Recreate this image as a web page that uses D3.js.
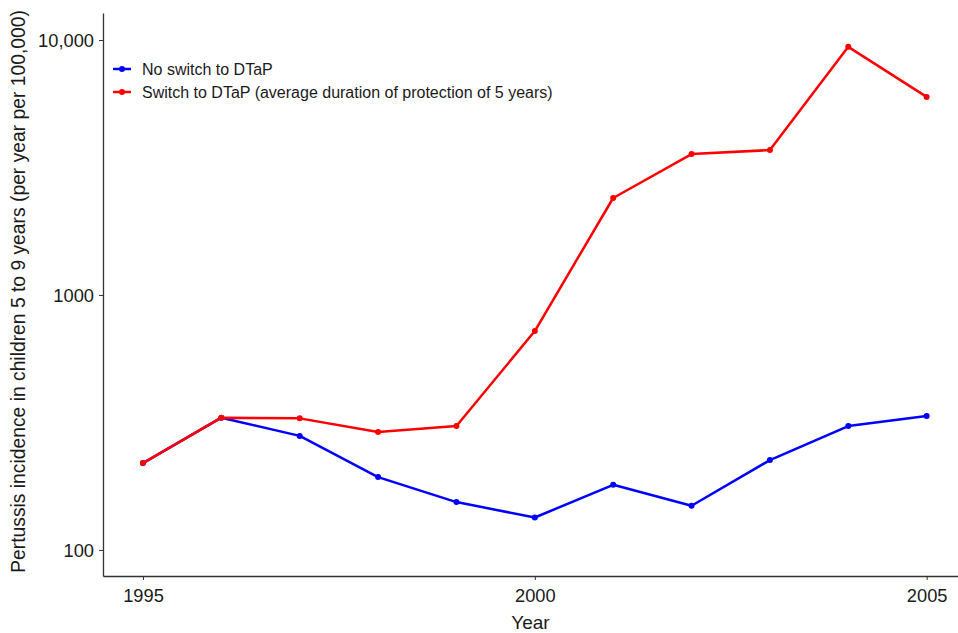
<!DOCTYPE html>
<html><head><meta charset="utf-8">
<script src="https://cdn.jsdelivr.net/npm/d3@7"></script>
<style>body{margin:0;background:#fff}svg{display:block;font-family:"Liberation Sans",Arial,sans-serif}</style>
</head><body><svg id="c" width="958" height="633"></svg>
<script>
const years = [1995,1996,1997,1998,1999,2000,2001,2002,2003,2004,2005];
const noSwitch = [219,330,280,193,154,134,180,149,225,306,335];
const switchDTaP = [219,330,328,290,306,722,2400,3570,3700,9400,5980];
const seriesNames = ["No switch to DTaP","Switch to DTaP (average duration of protection of 5 years)"];
const seriesColors = ["#0000ff","#ff0000"];
const xTicks = [1995,2000,2005];
const yTicks = [100,1000,10000];
const yTickLabels = ["100","1000","10,000"];

const svg = d3.select("#c");
const L=103, R=958, T=13, B=576;
const x = d3.scaleLinear().domain([1994.49,2005.4]).range([L,R]);
const y = d3.scaleLog().domain([79,12760]).range([B,T]);

const xa = svg.append("g").attr("transform",`translate(0,${B})`)
  .call(d3.axisBottom(x).tickValues(xTicks).tickFormat(d3.format("d")).tickSize(4).tickSizeOuter(0));
const ya = svg.append("g").attr("transform",`translate(${L},0)`)
  .call(d3.axisLeft(y).tickValues(yTicks).tickFormat((d,i)=>yTickLabels[i]).tickSize(4).tickSizeOuter(0));
[xa,ya].forEach(g=>{
  g.select(".domain").attr("stroke","#333").attr("stroke-width",1.3);
  g.selectAll(".tick line").attr("stroke","#333");
  g.selectAll(".tick text").attr("fill","#1a1a1a").attr("font-size",18.3).attr("font-family","Liberation Sans, Arial, sans-serif");
});
xa.selectAll(".tick text").attr("dy","1.05em");
ya.selectAll(".tick text").attr("dx","-2").attr("dy","0.35em");

svg.append("text").attr("x",(L+R)/2).attr("y",629).attr("text-anchor","middle")
  .attr("font-size",19).attr("fill","#1a1a1a").text("Year");
svg.append("text").attr("transform",`translate(25,${(T+B)/2-3}) rotate(-90)`).attr("text-anchor","middle")
  .attr("font-size",19.3).attr("fill","#1a1a1a").text("Pertussis incidence in children 5 to 9 years (per year per 100,000)");

const line = d3.line().x((d,i)=>x(years[i])).y(d=>y(d));
[noSwitch, switchDTaP].forEach((s,k)=>{
  const g = svg.append("g");
  g.append("path").attr("d",line(s)).attr("fill","none").attr("stroke",seriesColors[k]).attr("stroke-width",2.5).attr("stroke-linejoin","round");
  g.selectAll("circle").data(s).join("circle").attr("cx",(d,i)=>x(years[i])).attr("cy",d=>y(d)).attr("r",3).attr("fill",seriesColors[k]);
});
const lg = svg.append("g");
seriesNames.forEach((n,k)=>{
  const yy = 69 + k*23;
  lg.append("line").attr("x1",113).attr("x2",131).attr("y1",yy).attr("y2",yy).attr("stroke",seriesColors[k]).attr("stroke-width",2.5);
  lg.append("circle").attr("cx",122).attr("cy",yy).attr("r",3).attr("fill",seriesColors[k]);
  lg.append("text").attr("x",142).attr("y",yy).attr("dy","0.35em").attr("font-size",16).attr("fill","#1a1a1a").text(n);
});
</script></body></html>
